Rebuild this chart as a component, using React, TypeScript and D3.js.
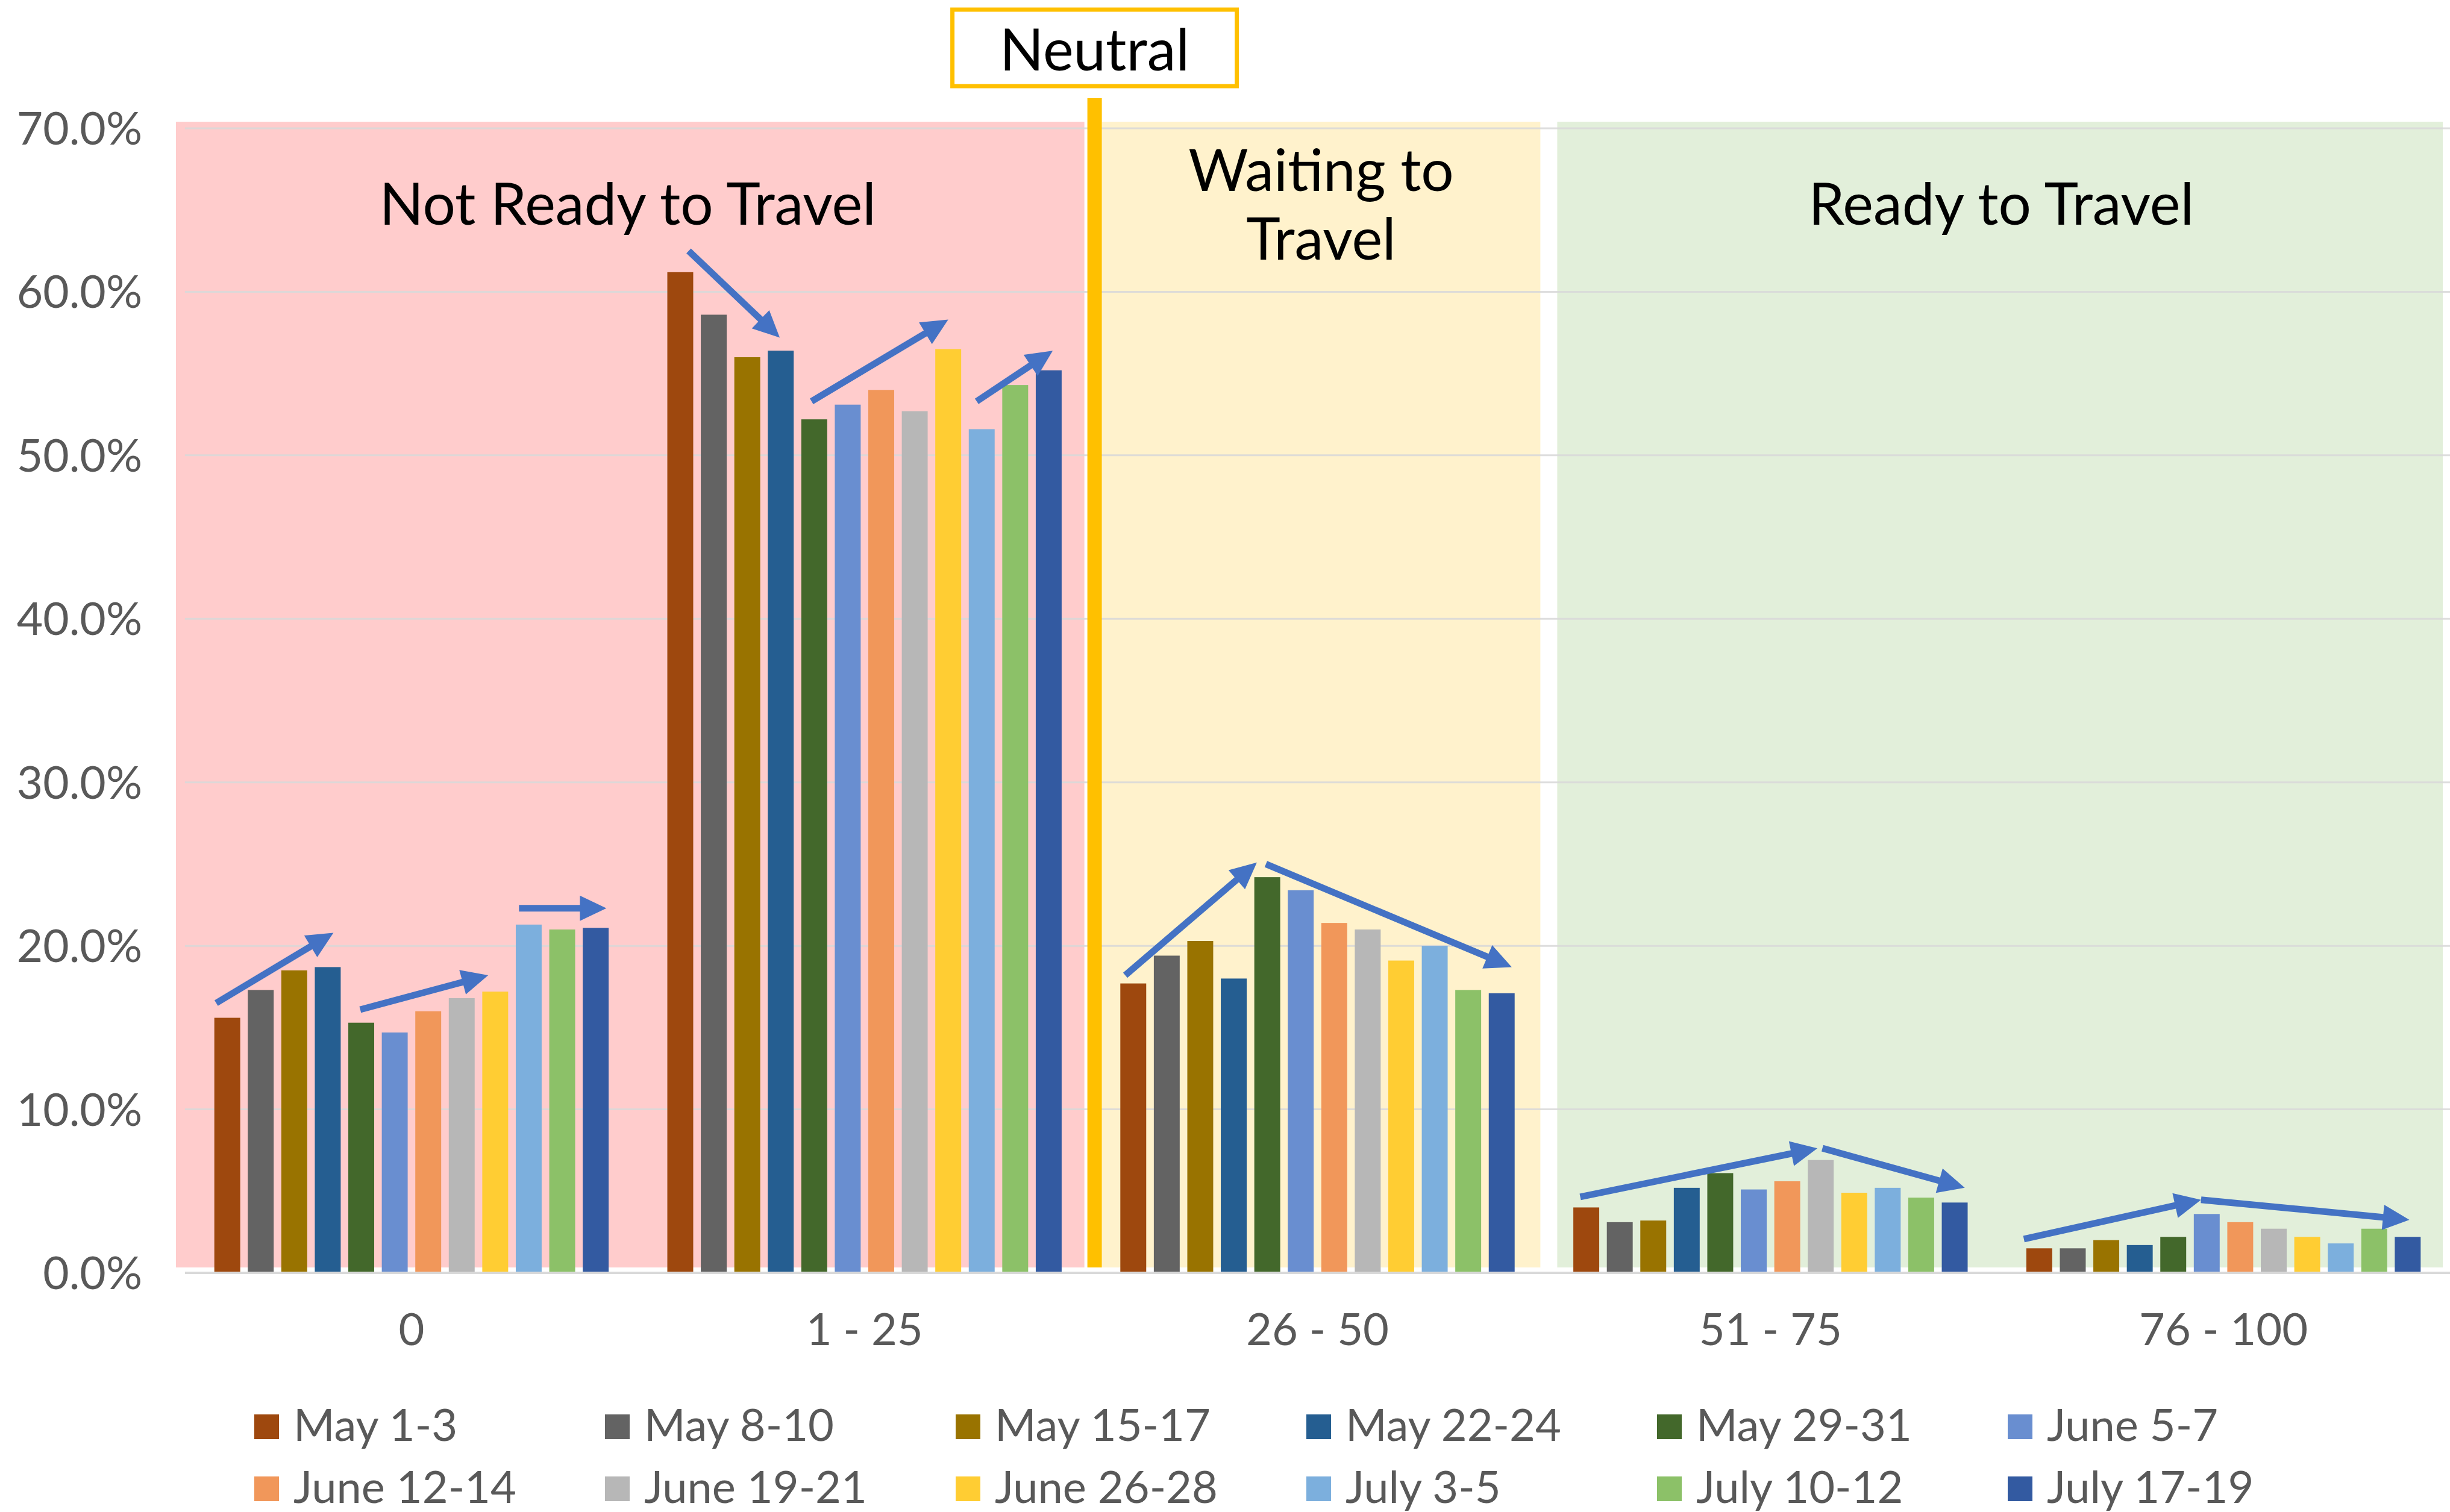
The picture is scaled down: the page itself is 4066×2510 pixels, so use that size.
import * as d3 from 'd3';

const W = 4066;
const H = 2510;

const categories = ['0', '1 - 25', '26 - 50', '51 - 75', '76 - 100'];

const seriesNames = [
  'May 1-3', 'May 8-10', 'May 15-17', 'May 22-24', 'May 29-31', 'June 5-7',
  'June 12-14', 'June 19-21', 'June 26-28', 'July 3-5', 'July 10-12', 'July 17-19',
];

const seriesColors = [
  '#9E480E', '#636363', '#997300', '#255E91', '#43682B', '#698ED0',
  '#F1975A', '#B7B7B7', '#FFCD33', '#7CAFDD', '#8CC168', '#335AA1',
];

// percent values, one array per category, in series order
const bin0 = [15.6, 17.3, 18.5, 18.7, 15.3, 14.7, 16.0, 16.8, 17.2, 21.3, 21.0, 21.1];
const bin1to25 = [61.2, 58.6, 56.0, 56.4, 52.2, 53.1, 54.0, 52.7, 56.5, 51.6, 54.3, 55.2];
const bin26to50 = [17.7, 19.4, 20.3, 18.0, 24.2, 23.4, 21.4, 21.0, 19.1, 20.0, 17.3, 17.1];
const bin51to75 = [4.0, 3.1, 3.2, 5.2, 6.1, 5.1, 5.6, 6.9, 4.9, 5.2, 4.6, 4.3];
const bin76to100 = [1.5, 1.5, 2.0, 1.7, 2.2, 3.6, 3.1, 2.7, 2.2, 1.8, 2.7, 2.2];
const binValues = [bin0, bin1to25, bin26to50, bin51to75, bin76to100];

const yTicks = [0, 10, 20, 30, 40, 50, 60, 70];

// trend arrows: [category, from series pos, from value, to series pos, to value]
const trendArrows: [number, number, number, number, number][] = [
  [0, -0.33, 16.5, 3.17, 20.8],
  [0, 3.97, 16.1, 7.79, 18.2],
  [0, 8.71, 22.3, 11.32, 22.3],
  [1, 0.25, 62.5, 2.97, 57.2],
  [1, 3.92, 53.3, 8.0, 58.3],
  [1, 8.85, 53.3, 11.12, 56.4],
  [2, -0.24, 18.2, 3.69, 25.1],
  [2, 3.96, 25.0, 11.3, 18.7],
  [3, -0.18, 4.65, 6.9, 7.62],
  [3, 7.05, 7.62, 11.3, 5.2],
  [4, -0.46, 2.07, 4.83, 4.47],
  [4, 4.83, 4.47, 11.05, 3.24],
];

const FONT = 'Lato, "Open Sans", sans-serif';

function arrowPath(x1: number, y1: number, x2: number, y2: number) {
  const shaft = 5.5;
  const headLen = 44;
  const headHalf = 21;
  const dx = x2 - x1;
  const dy = y2 - y1;
  const len = Math.hypot(dx, dy);
  const ux = dx / len;
  const uy = dy / len;
  const nx = -uy;
  const ny = ux;
  const bx = x2 - ux * headLen;
  const by = y2 - uy * headLen;
  const pts = [
    [x1 + nx * shaft, y1 + ny * shaft],
    [bx + nx * shaft, by + ny * shaft],
    [bx + nx * headHalf, by + ny * headHalf],
    [x2, y2],
    [bx - nx * headHalf, by - ny * headHalf],
    [bx - nx * shaft, by - ny * shaft],
    [x1 - nx * shaft, y1 - ny * shaft],
  ];
  return 'M' + pts.map(p => p.join(',')).join('L') + 'Z';
}

export default function App() {
  const x0 = d3.scaleBand<string>().domain(categories).range([307, 4066]);
  const x1 = d3
    .scaleBand<string>()
    .domain(seriesNames)
    .range([0, x0.bandwidth()])
    .paddingInner(0.227)
    .paddingOuter(0.876);
  const y = d3.scaleLinear().domain([0, 70]).range([2113, 213]);

  const bw = x1.bandwidth();
  const seriesX = (cat: number, pos: number) =>
    (x0(categories[cat]) ?? 0) + (x1(seriesNames[0]) ?? 0) + bw / 2 + pos * x1.step();

  const edge = (i: number) => (x0(categories[i]) ?? 0);
  const bandEnd = x0.range()[1];
  const regionTop = y(70.4);
  const regionBottom = y(0.33);
  const lineX = edge(2) + 6;

  const regions = [
    { x: edge(0) - 15, x2: edge(2) - 11, fill: '#FFCCCC' },
    { x: lineX + 12, x2: edge(3) - 6, fill: '#FFF2CC' },
    { x: edge(3) + 22, x2: bandEnd - 12, fill: '#E2EFDA' },
  ];

  return (
    <svg
      width={W}
      height={H}
      style={{ position: 'absolute', left: 0, top: 0, background: '#fff' }}
      fontFamily={FONT}
    >
      {regions.map((r, i) => (
        <rect key={i} x={r.x} y={regionTop} width={r.x2 - r.x} height={regionBottom - regionTop} fill={r.fill} />
      ))}

      {yTicks.slice(1).map(t => (
        <line key={t} x1={307} x2={bandEnd} y1={y(t)} y2={y(t)} stroke="#D9D9D9" strokeWidth={3} opacity={0.85} />
      ))}
      <line x1={307} x2={bandEnd} y1={y(0)} y2={y(0)} stroke="#D9D9D9" strokeWidth={4} />

      {yTicks.map(t => (
        <text key={t} x={236} y={y(t)} dy="0.36em" textAnchor="end" fontSize={75} fill="#595959">
          {t.toFixed(1)}%
        </text>
      ))}

      {binValues.map((vals, ci) => (
        <g key={ci} transform={`translate(${x0(categories[ci])},0)`}>
          {vals.map((v, si) => (
            <rect
              key={si}
              x={x1(seriesNames[si])}
              y={y(v)}
              width={bw}
              height={y(0) - y(v) - 2}
              fill={seriesColors[si]}
            />
          ))}
        </g>
      ))}

      {categories.map(c => (
        <text key={c} x={(x0(c) ?? 0) + x0.bandwidth() / 2} y={2233} textAnchor="middle" fontSize={74} fill="#595959">
          {c}
        </text>
      ))}

      {trendArrows.map((a, i) => (
        <path
          key={i}
          d={arrowPath(seriesX(a[0], a[1]), y(a[2]), seriesX(a[0], a[3]), y(a[4]))}
          fill="#4472C4"
        />
      ))}

      {/* neutral divider */}
      <rect x={lineX - 12} y={163} width={24} height={regionBottom - 163} fill="#FFC000" />
      <rect x={lineX - 236} y={16} width={472} height={127} fill="#fff" stroke="#FFC000" strokeWidth={7} />
      <text x={lineX} y={117} textAnchor="middle" fontSize={96} fill="#000">
        Neutral
      </text>

      <text x={(regions[0].x + regions[0].x2) / 2 - 4} y={373} textAnchor="middle" fontSize={96} fill="#000">
        Not Ready to Travel
      </text>
      <text x={(regions[1].x + regions[1].x2) / 2} y={317} textAnchor="middle" fontSize={96} fill="#000">
        Waiting to
      </text>
      <text x={(regions[1].x + regions[1].x2) / 2} y={431} textAnchor="middle" fontSize={96} fill="#000">
        Travel
      </text>
      <text x={(regions[2].x + regions[2].x2) / 2 + 2} y={373} textAnchor="middle" fontSize={96} fill="#000">
        Ready to Travel
      </text>

      {seriesNames.map((s, i) => {
        const col = i % 6;
        const row = Math.floor(i / 6);
        const lx = 422 + col * 582;
        const ly = 2348 + row * 103;
        return (
          <g key={s}>
            <rect x={lx} y={ly} width={41} height={41} fill={seriesColors[i]} />
            <text x={lx + 65} y={ly + 44} fontSize={74} fill="#595959">
              {s}
            </text>
          </g>
        );
      })}
    </svg>
  );
}
